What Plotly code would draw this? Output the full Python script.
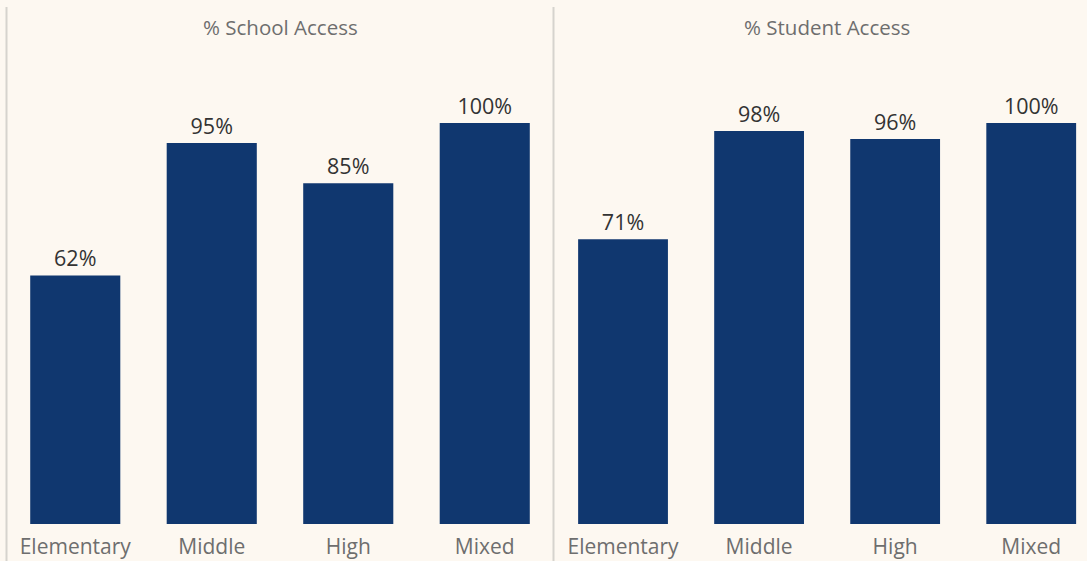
import plotly.graph_objects as go

categories = ["Elementary", "Middle", "High", "Mixed"]
school_access = [62, 95, 85, 100]
student_access = [71, 98, 96, 100]
panel_titles = ["% School Access", "% Student Access"]

W, H = 1087, 561
BG = "#fdf8f1"
BAR = "#10376f"
FONT = "Open Sans, sans-serif"

fig = go.Figure()
for i, vals in enumerate([school_access, student_access]):
    xa = "x" if i == 0 else "x2"
    ya = "y" if i == 0 else "y2"
    fig.add_trace(go.Bar(
        x=categories, y=vals, xaxis=xa, yaxis=ya,
        marker=dict(color=BAR, line=dict(width=0)),
        width=0.66,
        text=[f"{v}%" for v in vals], textposition="outside",
        textfont=dict(family=FONT, size=21.5, color="#333333"),
        cliponaxis=False, showlegend=False, hoverinfo="skip",
    ))

ydom = [(H - 524) / H, (H - 524 + 1.2 * 401) / H]
yax = dict(range=[0, 120], domain=ydom, visible=False, fixedrange=True)
xcommon = dict(showgrid=False, zeroline=False, showline=False, ticks="outside",
               ticklen=4, tickcolor="rgba(0,0,0,0)",
               tickfont=dict(family=FONT, size=21, color="#6e6e6e"))

fig.update_layout(
    width=W, height=H, margin=dict(l=0, r=0, t=0, b=0),
    paper_bgcolor=BG, plot_bgcolor=BG, bargap=0.34,
    xaxis=dict(domain=[7 / W, 553 / W], range=[-0.5, 3.5], anchor="y", **xcommon),
    xaxis2=dict(domain=[555 / W, 1.0], range=[-0.5, 3.41], anchor="y2", **xcommon),
    yaxis=dict(anchor="x", **yax),
    yaxis2=dict(anchor="x2", **yax),
)

for i, t in enumerate(panel_titles):
    fig.add_annotation(text=t, xref="x" if i == 0 else "x2", x=1.5,
                       yref="paper", y=(H - 27) / H, showarrow=False,
                       font=dict(family=FONT, size=20.5, color="#6e6e6e"),
                       xanchor="center", yanchor="middle")

for xp in [6.5, 553.5]:
    fig.add_shape(type="line", xref="paper", yref="paper",
                  x0=xp / W, x1=xp / W, y0=0, y1=(H - 7) / H,
                  line=dict(color="#d6d3ce", width=2))

fig.write_html("out.html")
